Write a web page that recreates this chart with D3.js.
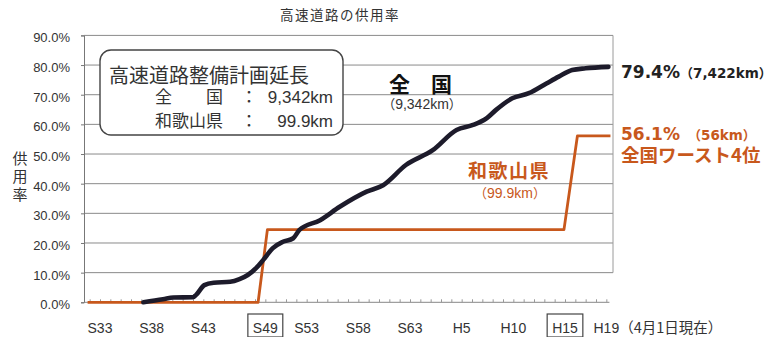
<!DOCTYPE html>
<html lang="ja">
<head>
<meta charset="utf-8">
<script src="https://cdn.jsdelivr.net/npm/d3@7"></script>
<style>
  html, body { margin: 0; padding: 0; background: #fff; }
  svg { display: block; }
  .jp { font-family: "Noto Sans CJK JP", "Noto Sans", sans-serif; }
  .num { font-family: "Liberation Sans", Arial, sans-serif; }
</style>
</head>
<body>
<svg id="chart" width="774" height="337"></svg>
<script>
// Expressway opening rate (供用率), nationwide vs. Wakayama prefecture

const yTicks = [0, 10, 20, 30, 40, 50, 60, 70, 80, 90];
const xTickYears  = [1958, 1963, 1968, 1974, 1978, 1983, 1988, 1993, 1998, 2003, 2007];
const xTickLabels = ["S33", "S38", "S43", "S49", "S53", "S58", "S63", "H5", "H10", "H15", "H19"];
const boxedTickLabels = ["S49", "H15"];
const lastTickNote = "（4月1日現在）";

// nationwide opening rate (%), by (fractional) fiscal year
const nationalYears = [1962.2, 1964.1, 1965.1, 1967.0, 1967.3, 1968.1, 1969.0, 1970.6, 1971.5, 1972.3,
                       1973.1, 1973.8, 1974.7, 1975.7, 1976.7, 1977.3, 1979.3, 1981.2, 1983.8, 1985.4,
                       1987.6, 1990.2, 1992.5, 1994.1, 1995.4, 1996.3, 1997.9, 1999.5, 2001.2, 2002.4,
                       2003.7, 2005.0, 2007.2];
const nationalRate  = [0, 1.0, 1.6, 1.7, 2.5, 5.8, 6.6, 6.9, 7.8, 9.2,
                       11.5, 14.3, 18.2, 20.4, 21.6, 24.4, 27.7, 32.2, 37.3, 39.5,
                       46.3, 51.3, 58.1, 59.8, 62.0, 64.8, 68.8, 70.5, 73.8, 76.1,
                       78.3, 78.9, 79.4];
const nationalKm = "7,422km";

// Wakayama prefecture opening rate (%)
const wakayamaYears = [1956.8, 1973.3, 1974.2, 2002.9, 2004.2, 2007.4];
const wakayamaRate  = [0, 0, 24.5, 24.5, 56.1, 56.1];
const wakayamaKm = "56km";

const planLabels   = ["全　　国", "和歌山県"];
const planLengths  = ["9,342km", "99.9km"];

const BLACK = "#1d1b2b";
const ORANGE = "#c8581c";
const TEXT = "#333";

const svg = d3.select("#chart");

const x = d3.scaleLinear().domain([1958, 2003]).range([100, 565]);
const y = d3.scaleLinear().domain([0, 90]).range([302.3, 35.4]);
const plotLeft = 84, plotRight = 613;

// Writes a run of text pieces one after another as separate text elements.
function textRun(g, x0, y0, pieces, fill) {
  let cx = x0;
  pieces.forEach(p => {
    const t = g.append("text").attr("x", cx + (p.dx || 0)).attr("y", y0)
      .attr("font-size", p.size).attr("fill", fill).text(p.text);
    if (p.cls) t.attr("class", p.cls);
    if (p.family) t.attr("font-family", p.family);
    if (p.bold) t.attr("font-weight", "bold");
    cx += (p.dx || 0) + t.node().getComputedTextLength();
  });
  return cx;
}
function centeredRun(g, cxMid, y0, pieces, fill) {
  const tmp = g.append("g");
  const w = textRun(tmp, 0, y0, pieces, fill);
  tmp.remove();
  textRun(g, cxMid - w / 2, y0, pieces, fill);
}

// title
svg.append("text").attr("class", "jp")
  .attr("x", 340).attr("y", 20).attr("text-anchor", "middle")
  .attr("font-size", 13.5).attr("letter-spacing", 1.5).attr("fill", TEXT)
  .text("高速道路の供用率");

// horizontal gridlines
svg.append("g").selectAll("line").data(yTicks.filter(d => d > 0)).join("line")
  .attr("x1", plotLeft).attr("x2", plotRight)
  .attr("y1", d => y(d)).attr("y2", d => y(d))
  .attr("stroke", "#8a8a8a").attr("stroke-width", 1);

// right frame edge
svg.append("line")
  .attr("x1", plotRight).attr("x2", plotRight)
  .attr("y1", y(90)).attr("y2", y(10))
  .attr("stroke", "#9a9a9a").attr("stroke-width", 1);

// y axis
const yAxis = d3.axisLeft(y).tickValues(yTicks).tickSize(3)
  .tickFormat(d => d3.format(".1f")(d) + "%");
const gy = svg.append("g").attr("transform", `translate(${plotLeft},0)`).call(yAxis);
gy.select(".domain").attr("stroke", "#777");
gy.selectAll(".tick line").attr("stroke", "#777");
gy.selectAll(".tick text").attr("class", "num").attr("font-size", 13).attr("fill", TEXT)
  .attr("x", -14).attr("dy", "0.5em");

// y axis title (vertical characters)
svg.append("g").selectAll("text").data(["供", "用", "率"]).join("text")
  .attr("class", "jp").attr("x", 20).attr("y", (d, i) => 164 + i * 18)
  .attr("text-anchor", "middle").attr("font-size", 15).attr("fill", TEXT)
  .text(d => d);

// x axis baseline with yearly minor ticks
const xAxis = d3.axisBottom(x).tickValues(d3.range(1957, 2008)).tickSize(-3).tickFormat("");
const gx = svg.append("g").attr("transform", `translate(0,${y(0)})`).call(xAxis);
gx.select(".domain").attr("stroke", "#888").attr("d", `M${plotLeft},0H${x(2007.3)}`);
gx.selectAll(".tick line").attr("stroke", "#999");

// x tick labels
const labelG = svg.append("g");
xTickYears.forEach((yr, i) => {
  const lab = xTickLabels[i];
  const t = labelG.append("text").attr("class", "num")
    .attr("x", x(yr)).attr("y", 333).attr("text-anchor", "middle")
    .attr("font-size", 14).attr("fill", TEXT).text(lab);
  const w = t.node().getComputedTextLength();
  if (i === xTickYears.length - 1) {
    labelG.append("text").attr("class", "jp")
      .attr("x", x(yr) + w / 2).attr("y", 333)
      .attr("font-size", 14.5).attr("fill", TEXT).text(lastTickNote);
  }
  if (boxedTickLabels.includes(lab)) {
    labelG.append("rect")
      .attr("x", x(yr) - w / 2 - 5).attr("y", 314)
      .attr("width", w + 10).attr("height", 23)
      .attr("fill", "none").attr("stroke", "#444").attr("stroke-width", 1.2);
  }
});

// Wakayama series
const wakayama = wakayamaYears.map((yr, i) => ({ yr, v: wakayamaRate[i] }));
svg.append("path").datum(wakayama)
  .attr("d", d3.line().x(d => x(d.yr)).y(d => y(d.v)))
  .attr("fill", "none").attr("stroke", ORANGE).attr("stroke-width", 2.8)
  .attr("stroke-linejoin", "round");

// nationwide series
const national = nationalYears.map((yr, i) => ({ yr, v: nationalRate[i] }));
svg.append("path").datum(national)
  .attr("d", d3.line().curve(d3.curveMonotoneX).x(d => x(d.yr)).y(d => y(d.v)))
  .attr("fill", "none").attr("stroke", BLACK).attr("stroke-width", 4.6)
  .attr("stroke-linecap", "round").attr("stroke-linejoin", "round");

// planned length box
const box = svg.append("g");
box.append("rect").attr("x", 100).attr("y", 50).attr("width", 243).attr("height", 85)
  .attr("rx", 11).attr("fill", "#fff").attr("stroke", "#444").attr("stroke-width", 1.4);
box.append("text").attr("class", "jp").attr("x", 109).attr("y", 83)
  .attr("font-size", 20).attr("fill", TEXT).text("高速道路整備計画延長");
planLabels.forEach((lab, i) => {
  const by = 103 + i * 24;
  box.append("text").attr("class", "jp").attr("x", 155).attr("y", by)
    .attr("font-size", 17).attr("fill", TEXT).text(lab);
  box.append("text").attr("class", "jp").attr("x", 249).attr("y", by)
    .attr("text-anchor", "middle").attr("font-size", 17).attr("fill", TEXT).text("：");
  box.append("text").attr("class", "num").attr("x", 333).attr("y", by)
    .attr("text-anchor", "end").attr("font-size", 17).attr("fill", TEXT).text(planLengths[i]);
});

// nationwide annotation
svg.append("text").attr("class", "jp").attr("x", 389).attr("y", 92)
  .attr("font-size", 21).attr("font-weight", "bold").attr("fill", "#111").text("全　国");
centeredRun(svg, 422, 109, [
  { text: "（", size: 13, cls: "jp" },
  { text: planLengths[0], size: 14, cls: "num" },
  { text: "）", size: 13, cls: "jp" }
], TEXT);

// end value labels
const endNat = national[national.length - 1];
textRun(svg, 621, 78, [
  { text: d3.format(".1f")(endNat.v) + "%", size: 17, family: "DejaVu Sans", bold: true },
  { text: "（", size: 13, cls: "jp", bold: true },
  { text: nationalKm, size: 13.5, family: "DejaVu Sans", bold: true },
  { text: "）", size: 13, cls: "jp", bold: true }
], "#222");

const endWak = wakayama[wakayama.length - 1];
textRun(svg, 621, 140, [
  { text: d3.format(".1f")(endWak.v) + "%", size: 17, family: "DejaVu Sans", bold: true },
  { text: "（", size: 13, cls: "jp", bold: true, dx: 8 },
  { text: wakayamaKm, size: 13.5, family: "DejaVu Sans", bold: true },
  { text: "）", size: 13, cls: "jp", bold: true }
], ORANGE);
svg.append("text").attr("class", "jp").attr("x", 621).attr("y", 162)
  .attr("font-size", 18.5).attr("font-weight", "bold").attr("fill", ORANGE)
  .text("全国ワースト4位");

// Wakayama annotation
svg.append("text").attr("class", "jp").attr("x", 509).attr("y", 178)
  .attr("text-anchor", "middle").attr("font-size", 19).attr("font-weight", "bold")
  .attr("letter-spacing", 1.5).attr("fill", ORANGE).text("和歌山県");
centeredRun(svg, 510, 198, [
  { text: "（", size: 13, cls: "jp" },
  { text: planLengths[1], size: 14, cls: "num" },
  { text: "）", size: 13, cls: "jp" }
], ORANGE);
</script>
</body>
</html>
